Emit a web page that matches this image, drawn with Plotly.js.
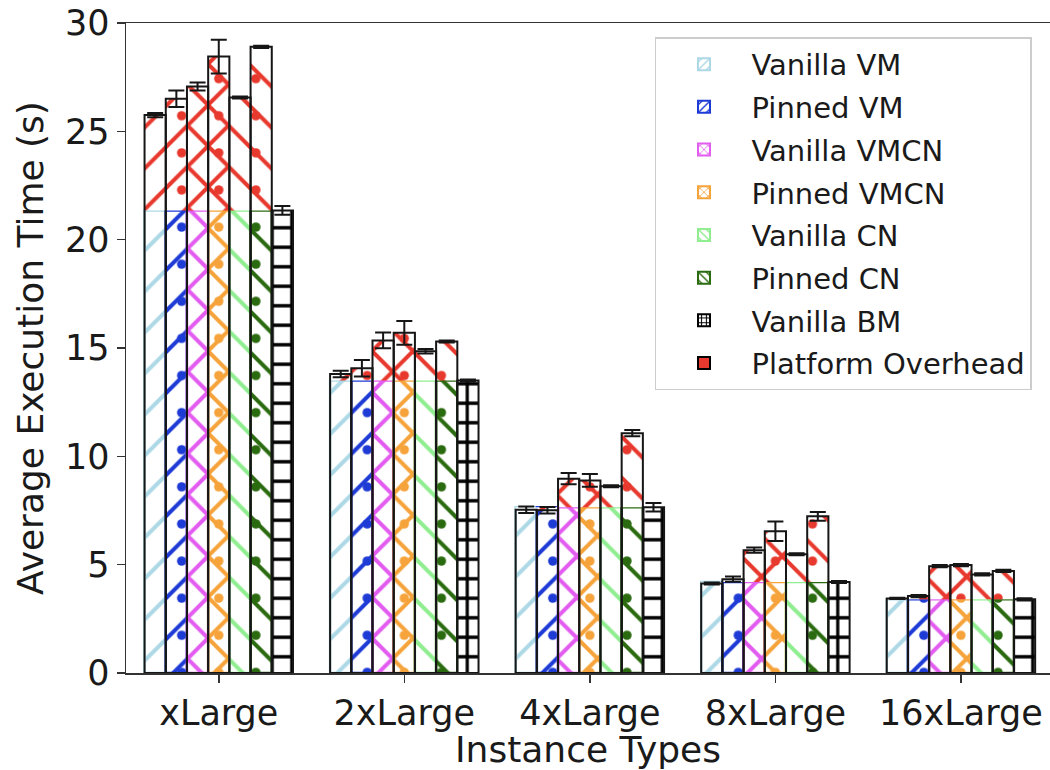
<!DOCTYPE html>
<html><head><meta charset="utf-8">
<script src="https://cdn.plot.ly/plotly-3.0.1.min.js"></script>
<style>html,body{margin:0;padding:0;background:#fff;overflow:hidden}</style>
</head><body>
<div id="chart" style="width:1050px;height:770px"></div>
<script>
// ---- data ----
const categories = ['xLarge', '2xLarge', '4xLarge', '8xLarge', '16xLarge'];
const seriesNames = ['Vanilla VM', 'Pinned VM', 'Vanilla VMCN', 'Pinned VMCN', 'Vanilla CN', 'Pinned CN'];
const bmName = 'Vanilla BM';
const overheadName = 'Platform Overhead';

const vanillaVM    = [25.75, 13.80, 7.54, 4.13, 3.44];
const pinnedVM     = [26.50, 14.07, 7.51, 4.33, 3.55];
const vanillaVMCN  = [27.07, 15.35, 8.97, 5.67, 4.93];
const pinnedVMCN   = [28.45, 15.70, 8.89, 6.54, 4.98];
const vanillaCN    = [26.56, 14.85, 8.62, 5.48, 4.55];
const pinnedCN     = [28.90, 15.30, 11.07, 7.23, 4.71];
const vanillaBM    = [21.35, 13.50, 7.65, 4.20, 3.40];

const errVanillaVM   = [0.10, 0.15, 0.15, 0.05, 0.03];
const errPinnedVM    = [0.38, 0.38, 0.15, 0.12, 0.05];
const errVanillaVMCN = [0.18, 0.36, 0.26, 0.12, 0.05];
const errPinnedVMCN  = [0.78, 0.55, 0.29, 0.45, 0.05];
const errVanillaCN   = [0.05, 0.10, 0.05, 0.05, 0.05];
const errPinnedCN    = [0.05, 0.05, 0.14, 0.20, 0.05];
const errVanillaBM   = [0.20, 0.05, 0.20, 0.05, 0.05];

// ---- styles ----
const seriesValues = [vanillaVM, pinnedVM, vanillaVMCN, pinnedVMCN, vanillaCN, pinnedCN];
const seriesErrors = [errVanillaVM, errPinnedVM, errVanillaVMCN, errPinnedVMCN, errVanillaCN, errPinnedCN];
const colors = ['#add8e6', '#1f3bd6', '#e35cf0', '#f5a33a', '#90ee90', '#2b6b10'];
const shapes = ['/', '/', 'x', 'x', '\\', '\\'];
const dotted = [false, true, false, true, false, true];
const OVER = '#e8392e';
const EDGE = '#161616';
const nBars = 7, groupW = 0.8, bw = groupW / nBars;
const off = i => -groupW / 2 + i * bw;
const lineSol = s => (s === 'x' ? 0.26 : 0.14);
const LSIZE = 29, DSIZE = 37.108;

const traces = [];
const overhead = seriesValues.map(v => v.map((t, k) => t - vanillaBM[k]));

// base (coloured hatch) parts
seriesValues.forEach((vals, i) => {
  traces.push({
    type: 'bar', x: categories, y: vanillaBM, offset: off(i), width: bw,
    showlegend: false, hoverinfo: 'skip',
    marker: { color: '#ffffff', line: { color: colors[i], width: 2.5 },
      pattern: { shape: shapes[i], fgcolor: colors[i], bgcolor: '#ffffff', size: LSIZE, solidity: lineSol(shapes[i]) } }
  });
});
// platform overhead parts
seriesValues.forEach((vals, i) => {
  traces.push({
    type: 'bar', x: categories, y: overhead[i], base: vanillaBM, offset: off(i), width: bw,
    showlegend: false, hoverinfo: 'skip',
    marker: { color: '#ffffff', line: { width: 0 },
      pattern: { shape: shapes[i], fgcolor: OVER, bgcolor: '#ffffff', size: LSIZE, solidity: lineSol(shapes[i]) } }
  });
});
// dot overlays for pinned series
seriesValues.forEach((vals, i) => {
  if (!dotted[i]) return;
  traces.push({
    type: 'bar', x: categories, y: vanillaBM, offset: off(i), width: bw,
    showlegend: false, hoverinfo: 'skip',
    marker: { color: 'rgba(0,0,0,0)', line: { width: 0 },
      pattern: { shape: '.', fgcolor: colors[i], bgcolor: 'rgba(0,0,0,0)', size: DSIZE, solidity: 0.05 } }
  });
  traces.push({
    type: 'bar', x: categories, y: overhead[i], base: vanillaBM, offset: off(i), width: bw,
    showlegend: false, hoverinfo: 'skip',
    marker: { color: 'rgba(0,0,0,0)', line: { width: 0 },
      pattern: { shape: '.', fgcolor: OVER, bgcolor: 'rgba(0,0,0,0)', size: DSIZE, solidity: 0.05 } }
  });
});
// Vanilla BM
traces.push({
  type: 'bar', x: categories, y: vanillaBM, offset: off(6), width: bw,
  showlegend: false, hoverinfo: 'skip',
  marker: { color: '#ffffff', line: { color: EDGE, width: 2 },
    pattern: { shape: '+', fgcolor: '#000000', bgcolor: '#ffffff', size: 19.5, solidity: 0.3 } },
  error_y: { type: 'data', array: errVanillaBM, visible: true, color: EDGE, thickness: 2, width: 8 }
});
// black outlines + error bars on totals
seriesValues.forEach((vals, i) => {
  traces.push({
    type: 'bar', x: categories, y: vals, offset: off(i), width: bw,
    showlegend: false, hoverinfo: 'skip',
    marker: { color: 'rgba(0,0,0,0)', line: { color: EDGE, width: 2 } },
    error_y: { type: 'data', array: seriesErrors[i], visible: true, color: EDGE, thickness: 2, width: 8 }
  });
});
// legend entries
seriesNames.forEach((n, i) => {
  traces.push({
    type: 'bar', x: [null], y: [null], name: n, showlegend: true, legendgroup: 'g' + i,
    marker: { color: '#ffffff', line: { color: colors[i], width: 2 },
      pattern: { shape: shapes[i], fgcolor: colors[i], bgcolor: '#ffffff', size: 7, solidity: 0.25 } }
  });
});
traces.push({
  type: 'bar', x: [null], y: [null], name: bmName, showlegend: true, legendgroup: 'g6',
  marker: { color: '#ffffff', line: { color: '#000', width: 2 },
    pattern: { shape: '+', fgcolor: '#000', bgcolor: '#ffffff', size: 6, solidity: 0.4 } }
});
traces.push({
  type: 'bar', x: [null], y: [null], name: overheadName, showlegend: true, legendgroup: 'g7',
  marker: { color: OVER, line: { color: '#000', width: 2 } }
});

const font = 'DejaVu Sans, sans-serif';
const layout = {
  width: 1050, height: 770,
  margin: { l: 126, r: 0, t: 23, b: 97 },
  paper_bgcolor: '#ffffff', plot_bgcolor: '#ffffff',
  barmode: 'overlay',
  font: { family: font, color: '#1a1a1a' },
  showlegend: true,
  legend: {
    x: 0.5725, y: 0.978, xanchor: 'left', yanchor: 'top',
    bgcolor: 'rgba(255,255,255,0.9)', bordercolor: '#cccccc', borderwidth: 1.5,
    font: { family: font, size: 29, color: '#1a1a1a' },
    itemwidth: 85, traceorder: 'grouped', tracegroupgap: 2
  },
  xaxis: {
    type: 'category', range: [-0.5, 4.48],
    showline: true, linecolor: '#333', linewidth: 1.5, mirror: true,
    ticks: 'outside', ticklen: 8, tickwidth: 1.5, tickcolor: '#333',
    tickfont: { family: font, size: 35, color: '#1a1a1a' },
    showgrid: false, zeroline: false, fixedrange: true,
    title: { text: 'Instance Types', font: { family: font, size: 36, color: '#1a1a1a' }, standoff: 2 }
  },
  yaxis: {
    range: [0, 30], tickmode: 'linear', tick0: 0, dtick: 5,
    showline: true, linecolor: '#333', linewidth: 1.5,
    ticks: 'outside', ticklen: 8, tickwidth: 1.5, tickcolor: '#333',
    tickfont: { family: font, size: 35, color: '#1a1a1a' },
    showgrid: false, zeroline: false, fixedrange: true,
    title: { text: 'Average Execution Time (s)', font: { family: font, size: 36, color: '#1a1a1a' }, standoff: 10 }
  }
};
Plotly.newPlot('chart', traces, layout, { displayModeBar: false, staticPlot: true });
</script>
</body></html>
